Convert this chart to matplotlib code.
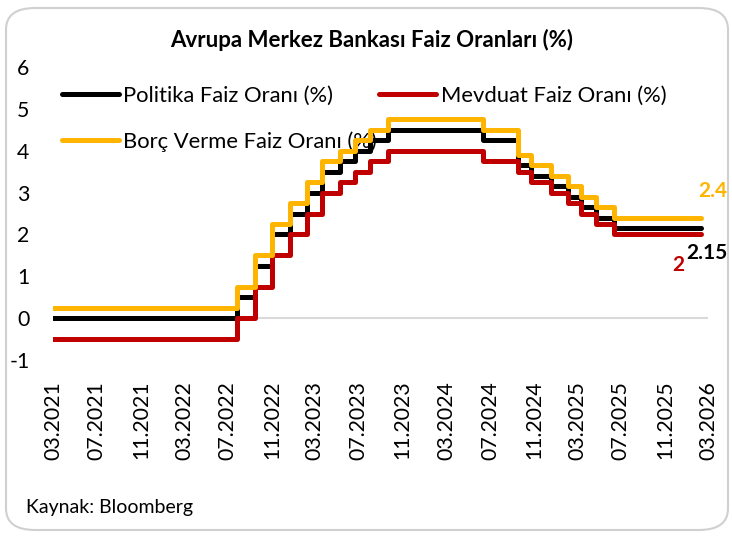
import pandas as pd
import numpy as np
import matplotlib
matplotlib.use('Agg')
import matplotlib.pyplot as plt
import matplotlib.dates as mdates
from matplotlib.patches import FancyBboxPatch

plt.rcParams['font.family'] = ['Lato', 'DejaVu Sans']
plt.rcParams['axes.unicode_minus'] = False

# ECB rate decisions (effective dates) and the last observation
dates = ['2021-03-01', '2022-07-27', '2022-09-14', '2022-11-02', '2022-12-21',
         '2023-02-08', '2023-03-22', '2023-05-10', '2023-06-21', '2023-08-02',
         '2023-09-20', '2024-06-12', '2024-09-18', '2024-10-23', '2024-12-18',
         '2025-02-05', '2025-03-12', '2025-04-23', '2025-06-11', '2026-02-10']
politika = [0.00, 0.50, 1.25, 2.00, 2.50, 3.00, 3.50, 3.75, 4.00, 4.25,
            4.50, 4.25, 3.65, 3.40, 3.15, 2.90, 2.65, 2.40, 2.15, 2.15]
mevduat = [-0.50, 0.00, 0.75, 1.50, 2.00, 2.50, 3.00, 3.25, 3.50, 3.75,
           4.00, 3.75, 3.50, 3.25, 3.00, 2.75, 2.50, 2.25, 2.00, 2.00]
borc = [0.25, 0.75, 1.50, 2.25, 2.75, 3.25, 3.75, 4.00, 4.25, 4.50,
        4.75, 4.50, 3.90, 3.65, 3.40, 3.15, 2.90, 2.65, 2.40, 2.40]
tick_labels = ['03.2021', '07.2021', '11.2021', '03.2022', '07.2022', '11.2022',
               '03.2023', '07.2023', '11.2023', '03.2024', '07.2024', '11.2024',
               '03.2025', '07.2025', '11.2025', '03.2026']

x = pd.to_datetime(dates)
ticks = pd.to_datetime(tick_labels, format='%m.%Y')

fig = plt.figure(figsize=(7.32, 5.36), dpi=100)
ax = fig.add_axes([53 / 732, 1 - 360 / 536, 655 / 732, 293 / 536])

black = '#000000'
red = '#C00000'
gold = '#FFB400'
lw = 3.6

ax.axhline(0, color='#D9D9D9', lw=1.5, zorder=1)
l1, = ax.plot(x, politika, drawstyle='steps-post', color=black, lw=lw,
              label='Politika Faiz Oranı (%)', zorder=3, solid_capstyle='round')
l2, = ax.plot(x, mevduat, drawstyle='steps-post', color=red, lw=lw,
              label='Mevduat Faiz Oranı (%)', zorder=3, solid_capstyle='round')
l3, = ax.plot(x, borc, drawstyle='steps-post', color=gold, lw=lw,
              label='Borç Verme Faiz Oranı (%)', zorder=3, solid_capstyle='round')

ax.set_ylim(-1, 6)
ax.set_yticks(range(-1, 7))
ax.set_xlim(ticks[0], ticks[-1])
ax.set_xticks(ticks)
ax.set_xticklabels(tick_labels, rotation=90)
ax.tick_params(axis='both', length=0, labelsize=15.3)
ax.tick_params(axis='x', pad=15)
ax.tick_params(axis='y', pad=17)
for s in ax.spines.values():
    s.set_visible(False)

leg = ax.legend(handles=[l1, l3, l2], ncol=2, frameon=False, fontsize=15.8,
                loc='upper left', bbox_to_anchor=(0.0, 0.965),
                handlelength=2.6, handletextpad=0.2, columnspacing=0.1,
                labelspacing=1.15, borderaxespad=0)
leg.set_zorder(2)

# end-of-series labels
ax.annotate(f'{borc[-1]:g}', xy=(x[-1], borc[-1]), xytext=(-2, 15),
            textcoords='offset points', color=gold, fontsize=15, fontweight='bold')
ax.annotate(f'{politika[-1]:g}', xy=(x[-1], politika[-1]), xytext=(-11, -22),
            textcoords='offset points', color=black, fontsize=15, fontweight='bold')
ax.annotate(f'{mevduat[-1]:g}', xy=(x[-1], mevduat[-1]), xytext=(-21, -26),
            textcoords='offset points', color=red, fontsize=15, fontweight='bold')

fig.text(372 / 732, 1 - 40 / 536, 'Avrupa Merkez Bankası Faiz Oranları (%)',
         ha='center', va='center', fontsize=16, fontweight='bold')
fig.text(26 / 732, 1 - 508 / 536, 'Kaynak: Bloomberg', ha='left', va='center',
         fontsize=14)

border = FancyBboxPatch((6 / 732, 6 / 536), 722 / 732, 522 / 536,
                        boxstyle='round,pad=0,rounding_size=0.04',
                        transform=fig.transFigure, fill=False,
                        edgecolor='#D0D0D0', lw=1.5)
fig.patches.append(border)

fig.savefig('out.png', dpi=100)
